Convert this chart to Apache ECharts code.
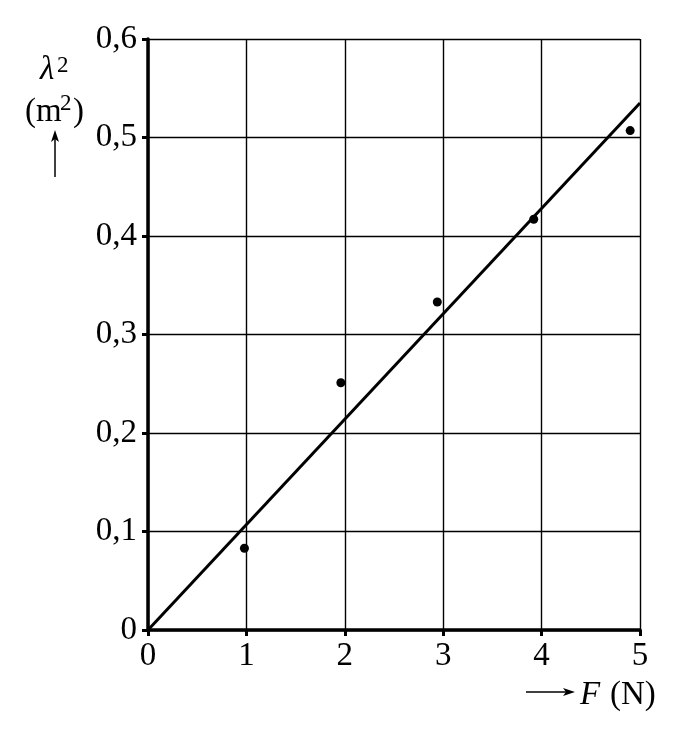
<!DOCTYPE html>
<html>
<head>
<meta charset="utf-8">
<script src="https://cdn.jsdelivr.net/npm/echarts@6/dist/echarts.min.js"></script>
<style>
	html, body { margin: 0; padding: 0; background: #fff; }
	#chart { width: 683px; height: 736px; }
</style>
</head>
<body>
<div id="chart"></div>
<script>
// measured points: force F (N) against lambda squared (m^2)
const forces = [0.98, 1.96, 2.94, 3.92, 4.9];
const lambdaSq = [0.083, 0.251, 0.333, 0.417, 0.507];

// fitted line through the origin
const fitX = [0, 5];
const fitY = [0, 0.535];

const xTicks = [0, 1, 2, 3, 4, 5];
const yTicks = [0, 0.1, 0.2, 0.3, 0.4, 0.5, 0.6];

const font = "'Liberation Serif', 'Times New Roman', serif";

const chart = echarts.init(document.getElementById("chart"), null, {
	renderer: "canvas",
});

function commaLabel(value) {
	if (value === 0) return "0";
	return value.toFixed(1).replace(".", ",");
}

function label(text, x, y, size, italic) {
	return {
		type: "text",
		style: {
			text: text,
			x: x,
			y: y,
			fill: "#000",
			font: (italic ? "italic " : "") + size + "px " + font,
			textVerticalAlign: "middle",
		},
	};
}

const option = {
	animation: false,
	backgroundColor: "#fff",
	textStyle: { fontFamily: font },
	grid: {
		left: 148,
		right: 43,
		top: 39,
		bottom: 106,
		containLabel: false,
	},
	xAxis: {
		type: "value",
		min: xTicks[0],
		max: xTicks[xTicks.length - 1],
		interval: 1,
		axisLine: { show: true, onZero: false, lineStyle: { color: "#000", width: 3.5 } },
		axisTick: { show: true, length: 6, inside: false, lineStyle: { color: "#000", width: 3 } },
		axisLabel: {
			color: "#000",
			fontFamily: font,
			fontSize: 33,
			margin: 10,
		},
		splitLine: { show: true, lineStyle: { color: "#000", width: 1.4 } },
	},
	yAxis: {
		type: "value",
		min: yTicks[0],
		max: yTicks[yTicks.length - 1],
		interval: 0.1,
		axisLine: { show: true, onZero: false, lineStyle: { color: "#000", width: 3.5 } },
		axisTick: { show: true, length: 6, inside: false, lineStyle: { color: "#000", width: 3 } },
		axisLabel: {
			color: "#000",
			fontFamily: font,
			fontSize: 33,
			margin: 11,
			formatter: commaLabel,
		},
		splitLine: { show: true, lineStyle: { color: "#000", width: 1.4 } },
	},
	series: [
		{
			name: "fit",
			type: "line",
			data: fitX.map((x, i) => [x, fitY[i]]),
			showSymbol: false,
			symbol: "none",
			lineStyle: { color: "#000", width: 3 },
			z: 3,
		},
		{
			name: "metingen",
			type: "scatter",
			data: forces.map((f, i) => [f, lambdaSq[i]]),
			symbol: "circle",
			symbolSize: 9,
			itemStyle: { color: "#000", opacity: 1 },
			z: 4,
		},
	],
	graphic: [
		// y axis name: lambda^2 (m^2) with arrow up
		label("λ", 40, 70, 33, true),
		label("2", 57, 66, 23, false),
		label("(m", 25, 112, 33, false),
		label("2", 60, 104, 23, false),
		label(")", 73, 112, 33, false),
		{
			type: "line",
			shape: { x1: 55, y1: 177, x2: 55, y2: 136 },
			style: { stroke: "#000", lineWidth: 1.5 },
		},
		{
			type: "polygon",
			shape: { points: [[55, 130], [51, 142], [55, 139], [59, 142]] },
			style: { fill: "#000" },
		},
		// x axis name: arrow right, F (N)
		{
			type: "line",
			shape: { x1: 526, y1: 692, x2: 568, y2: 692 },
			style: { stroke: "#000", lineWidth: 1.5 },
		},
		{
			type: "polygon",
			shape: { points: [[575, 692], [563, 688], [566, 692], [563, 696]] },
			style: { fill: "#000" },
		},
		label("F", 580, 695, 33, true),
		label("(N)", 610, 695, 33, false),
	],
};

chart.setOption(option);
</script>
</body>
</html>
